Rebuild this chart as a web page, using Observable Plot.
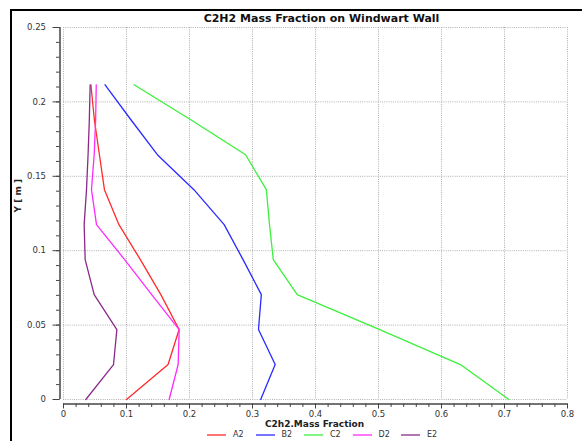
<!DOCTYPE html>
<html>
<head>
<meta charset="utf-8">
<script src="https://cdn.jsdelivr.net/npm/d3@7"></script>
<script src="https://cdn.jsdelivr.net/npm/@observablehq/plot@0.6"></script>
<style>
  html, body { margin: 0; padding: 0; background: #fff; }
  #wrap { position: relative; width: 582px; height: 441px; overflow: hidden; font-family: "DejaVu Sans", sans-serif; }
  #border { position: absolute; left: 10px; top: 9px; right: -5px; bottom: -5px; border-left: 2px solid #000; border-top: 2px solid #000; pointer-events: none; }
  #legend { position: absolute; left: 0; top: 428px; width: 582px; height: 13px; font-size: 8px; color: #333; }
  .item { position: absolute; top: 0; height: 13px; display: flex; align-items: center; }
  .item svg { display: block; }
  .item span { margin-left: 7px; }
</style>
</head>
<body>
<div id="wrap">
  <div id="chart"></div>
  <div id="legend"></div>
  <div id="border"></div>
</div>
<script>
// Y positions of the sampled wall points [m]
const yLevels = [0, 0.0235, 0.047, 0.0705, 0.094, 0.1175, 0.141, 0.1645, 0.188, 0.2115];
// C2H2 mass fraction per series (same order as yLevels)
const A2 = [0.100, 0.166, 0.1835, 0.1545, 0.122, 0.088, 0.065, 0.057, 0.049, 0.0435];
const B2 = [0.313, 0.336, 0.3095, 0.314, 0.285, 0.255, 0.207, 0.149, 0.107, 0.066];
const C2 = [0.707, 0.630, 0.502, 0.371, 0.333, 0.327, 0.322, 0.289, 0.202, 0.112];
const D2 = [0.1677, 0.182, 0.1836, 0.140, 0.097, 0.0524, 0.0444, 0.0487, 0.051, 0.052];
const E2 = [0.0354, 0.0794, 0.0847, 0.0487, 0.0344, 0.0328, 0.0365, 0.039, 0.041, 0.0423];

const seriesNames = ["A2", "B2", "C2", "D2", "E2"];
const seriesValues = [A2, B2, C2, D2, E2];
const seriesColors = ["#ff2a2a", "#2a2aff", "#3cf03c", "#ff2aff", "#8b2a8b"];

const xMajor = [0, 0.1, 0.2, 0.3, 0.4, 0.5, 0.6, 0.7, 0.8];
const xMinor = d3.range(0, 41).map(i => i / 50);
const yMajor = [0, 0.05, 0.1, 0.15, 0.2, 0.25];
const yMinor = d3.range(0, 26).map(i => i / 100);

const titleText = "C2H2 Mass Fraction on Windwart Wall";
const xLabel = "C2h2.Mass Fraction";
const yLabel = "Y [ m ]";

const rows = [];
seriesNames.forEach((name, s) => {
  yLevels.forEach((y, i) => rows.push({series: name, x: seriesValues[s][i], y}));
});

const chart = Plot.plot({
  width: 582,
  height: 428,
  marginLeft: 63,
  marginRight: 15,
  marginTop: 27,
  marginBottom: 29,
  style: {fontFamily: "DejaVu Sans, sans-serif", fontSize: "8.5px", color: "#333", background: "transparent"},
  x: {domain: [0, 0.8]},
  y: {domain: [0, 0.25]},
  color: {domain: seriesNames, range: seriesColors},
  marks: [
    Plot.gridX(xMajor, {stroke: "#b0b0b0", strokeOpacity: 1, strokeDasharray: "1,1.2"}),
    Plot.gridY(yMajor, {stroke: "#b0b0b0", strokeOpacity: 1, strokeDasharray: "1,1.2"}),
    // y axis
    Plot.ruleX([0], {dx: -3.5, stroke: "#444", strokeWidth: 1.5}),
    Plot.axisY(yMinor, {tickSize: 3.5, text: null, dx: -3.5, stroke: "#444", label: null}),
    Plot.axisY(yMajor, {tickSize: 7, tickPadding: 7, dx: -3.5, stroke: "#444", tickFormat: d => String(d), label: null}),
    // x axis
    Plot.ruleY([0], {dy: 4.5, stroke: "#444", strokeWidth: 1.5}),
    Plot.axisX(xMinor, {tickSize: 3.5, text: null, dy: 4.5, stroke: "#444", label: null}),
    Plot.axisX(xMajor, {tickSize: 5, tickPadding: 2, dy: 4.5, stroke: "#444", tickFormat: d => String(d), label: null}),
    // series
    Plot.line(rows, {x: "x", y: "y", z: "series", stroke: "series", strokeWidth: 1.3, sort: null}),
    // texts
    Plot.text([titleText], {frameAnchor: "top", dx: 6, dy: -9.5, lineAnchor: "middle", fontWeight: "bold", fontSize: 11, fill: "#111"}),
    Plot.text([xLabel], {frameAnchor: "bottom", dx: -1, dy: 25, lineAnchor: "middle", fontWeight: "bold", fontSize: 9, fill: "#222"}),
    Plot.text([yLabel], {frameAnchor: "left", dx: -45.5, dy: -1, rotate: -90, lineAnchor: "middle", fontWeight: "bold", fontSize: 9, fill: "#222"})
  ]
});
document.getElementById("chart").appendChild(chart);

// legend
const legend = document.getElementById("legend");
seriesNames.forEach((name, i) => {
  const item = document.createElement("div");
  item.className = "item";
  item.style.left = (207 + i * 48.5) + "px";
  item.innerHTML = `<svg width="19" height="4"><line x1="0" x2="19" y1="2" y2="2" stroke="${seriesColors[i]}" stroke-width="1.3"/></svg><span>${name}</span>`;
  legend.appendChild(item);
});
</script>
</body>
</html>
